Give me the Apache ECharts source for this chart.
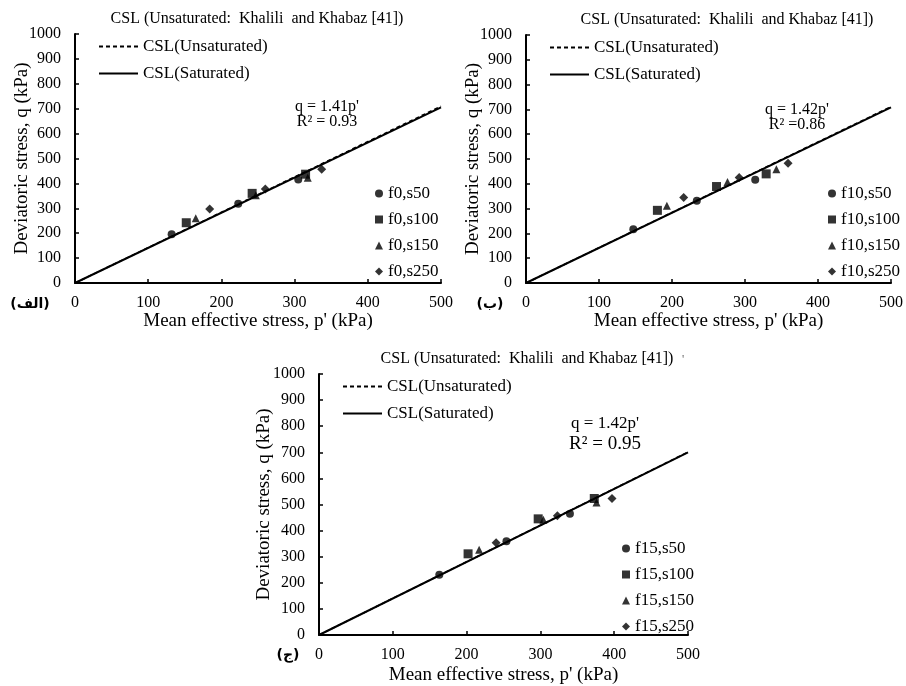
<!DOCTYPE html>
<html>
<head>
<meta charset="utf-8">
<script src="https://cdn.jsdelivr.net/npm/echarts@6/dist/echarts.min.js"></script>
<style>
  html, body { margin: 0; padding: 0; background: #fff; }
  #chart { width: 906px; height: 686px; }
</style>
</head>
<body>
<div id="chart"></div>
<script>
  // 读图得到的数据 (p', q)
  const f0_s50 = [[132, 196], [223, 318], [305, 416]];
  const f0_s100 = [[152, 242], [242, 360], [315, 437]];
  const f0_s150 = [[165, 260], [247, 352], [318, 423]];
  const f0_s250 = [[184, 297], [260, 378], [337, 457]];

  const f10_s50 = [[147, 217], [234, 332], [314, 416]];
  const f10_s100 = [[180, 293], [261, 389], [329, 440]];
  const f10_s150 = [[193, 311], [276, 407], [343, 459]];
  const f10_s250 = [[216, 345], [292, 425], [359, 483]];

  const f15_s50 = [[163, 231], [254, 359], [340, 465]];
  const f15_s100 = [[202, 311], [297, 445], [373, 523]];
  const f15_s150 = [[217, 327], [304, 442], [376, 508]];
  const f15_s250 = [[240, 353], [323, 457], [397, 523]];

  // CSL lines: q at p' = 500
  const satEnd = [705, 708, 700];
  const unsatEnd = [710, 711, 701];

  const xTicks = [0, 100, 200, 300, 400, 500];
  const yTicks = [0, 100, 200, 300, 400, 500, 600, 700, 800, 900, 1000];

  const eqLines = ["q = 1.41p'", "q = 1.42p'", "q = 1.42p'"];
  const r2Lines = ["R\u00b2 = 0.93", "R\u00b2 =0.86", "R\u00b2 = 0.95"];
  const panelTags = ['(الف)', '(ب)', '(ج)'];
  const titleText = 'CSL (Unsaturated:  Khalili  and Khabaz [41])';

  const panels = [
    {prefix: 'f0', data: [f0_s50, f0_s100, f0_s150, f0_s250]},
    {prefix: 'f10', data: [f10_s50, f10_s100, f10_s150, f10_s250]},
    {prefix: 'f15', data: [f15_s50, f15_s100, f15_s150, f15_s250]}
  ];
  const suctions = ['s50', 's100', 's150', 's250'];
  const symbols = ['circle', 'rect', 'triangle', 'diamond'];
  const symbolSizes = [8, 9, 8, 9];

  // 布局
  const grids = [
    {left: 75, top: 34, width: 366, height: 249},
    {left: 526, top: 35, width: 368, height: 248},
    {left: 319, top: 374, width: 369, height: 262}
  ];
  const FONT = '"Liberation Serif", "Times New Roman", serif';

  let chart = echarts.init(document.getElementById('chart'));

  let xAxis = [], yAxis = [], series = [], legend = [], title = [], graphic = [];
  grids.forEach((g, i) => {
    xAxis.push({
      type: 'value', gridIndex: i, min: xTicks[0], max: xTicks[xTicks.length - 1], interval: 100,
      name: "Mean effective stress, p' (kPa)", nameLocation: 'middle', nameGap: i === 2 ? 31 : 29,
      nameMoveOverlap: false,
      nameTextStyle: {fontFamily: FONT, fontSize: 19, color: '#000'},
      axisLine: {lineStyle: {color: '#000', width: 2}},
      axisTick: {inside: true, length: 4, lineStyle: {color: '#000', width: 1.5}},
      axisLabel: {fontFamily: FONT, fontSize: 16, color: '#000', margin: 12, formatter: v => String(v)},
      splitLine: {show: false}
    });
    yAxis.push({
      type: 'value', gridIndex: i, min: yTicks[0], max: yTicks[yTicks.length - 1], interval: 100,
      name: 'Deviatoric stress, q (kPa)', nameLocation: 'middle', nameGap: i === 2 ? 45 : 43,
      nameMoveOverlap: false,
      nameTextStyle: {fontFamily: FONT, fontSize: 19, color: '#000'},
      axisLine: {show: true, lineStyle: {color: '#000', width: 2}},
      axisTick: {show: true, inside: true, length: 4, lineStyle: {color: '#000', width: 1.5}},
      axisLabel: {fontFamily: FONT, fontSize: 16, color: '#000', margin: 14, formatter: v => String(v)},
      splitLine: {show: false}
    });

    series.push({
      name: 'CSL(Unsaturated)', type: 'line', xAxisIndex: i, yAxisIndex: i,
      data: [[0, 0], [500, unsatEnd[i]]], symbol: 'none', silent: true,
      itemStyle: {color: '#000'},
      lineStyle: {color: '#000', width: 1.5, type: [4, 3]}, z: 3
    });
    series.push({
      name: 'CSL(Saturated)', type: 'line', xAxisIndex: i, yAxisIndex: i,
      data: [[0, 0], [500, satEnd[i]]], symbol: 'none', silent: true,
      itemStyle: {color: '#000'},
      lineStyle: {color: '#000', width: 2}, z: 2
    });
    let names = [];
    panels[i].data.forEach((d, k) => {
      let name = panels[i].prefix + ',' + suctions[k];
      names.push(name);
      series.push({
        name: name, type: 'scatter', xAxisIndex: i, yAxisIndex: i, data: d,
        symbol: symbols[k], symbolSize: symbolSizes[k],
        itemStyle: {color: '#000'}, z: 4
      });
    });

    // 左上角图例
    legend.push({
      orient: 'vertical', left: g.left + 18, top: g.top - 1,
      itemWidth: 39, itemHeight: 14, itemGap: 10, itemTextGap: 2,
      data: ['CSL(Unsaturated)', 'CSL(Saturated)'],
      itemStyle: {opacity: 0},
      textStyle: {fontFamily: FONT, fontSize: 17, color: '#000'},
      selectedMode: false
    });
    // 右下角图例
    legend.push({
      orient: 'vertical', left: g.left + g.width - 71, top: g.top + g.height - (i === 2 ? 101 : 103),
      itemWidth: 8, itemHeight: 8, itemGap: 9, itemTextGap: 2,
      data: names,
      textStyle: {fontFamily: FONT, fontSize: 17, color: '#000'},
      selectedMode: false
    });

    title.push({
      text: titleText, top: g.top - 28,
      textAlign: 'center',
      textStyle: {fontFamily: FONT, fontSize: 16, fontWeight: 'normal', color: '#000'}
    });
  });
  // 标题中心位置
  title[0].left = 252; title[1].left = 722; title[2].left = 522;

  // 回归方程
  const eqPos = [[327, 99, 16, 16, 15], [797, 102, 16, 16, 15], [605, 415, 17, 19, 20]];
  eqPos.forEach((p, i) => {
    graphic.push({
      type: 'text', x: p[0], y: p[1],
      style: {text: eqLines[i], fill: '#000', font: p[2] + 'px ' + FONT, align: 'center'}
    });
    graphic.push({
      type: 'text', x: p[0], y: p[1] + p[4],
      style: {text: r2Lines[i], fill: '#000', font: p[3] + 'px ' + FONT, align: 'center'}
    });
  });
  // 子图编号
  const tagPos = [[30, 297], [490, 297], [288, 648]];
  tagPos.forEach((p, i) => {
    graphic.push({
      type: 'text', x: p[0], y: p[1],
      style: {text: panelTags[i], fill: '#000', font: 'bold 14px "DejaVu Sans", "Noto Sans", sans-serif', align: 'center'}
    });
  });
  graphic.push({type: 'text', x: 682, y: 354, style: {text: "'", fill: '#666', font: '12px ' + FONT}});

  chart.setOption({
    animation: false,
    backgroundColor: '#fff',
    title: title,
    legend: legend,
    grid: grids,
    xAxis: xAxis,
    yAxis: yAxis,
    series: series,
    graphic: graphic
  });
</script>
</body>
</html>
